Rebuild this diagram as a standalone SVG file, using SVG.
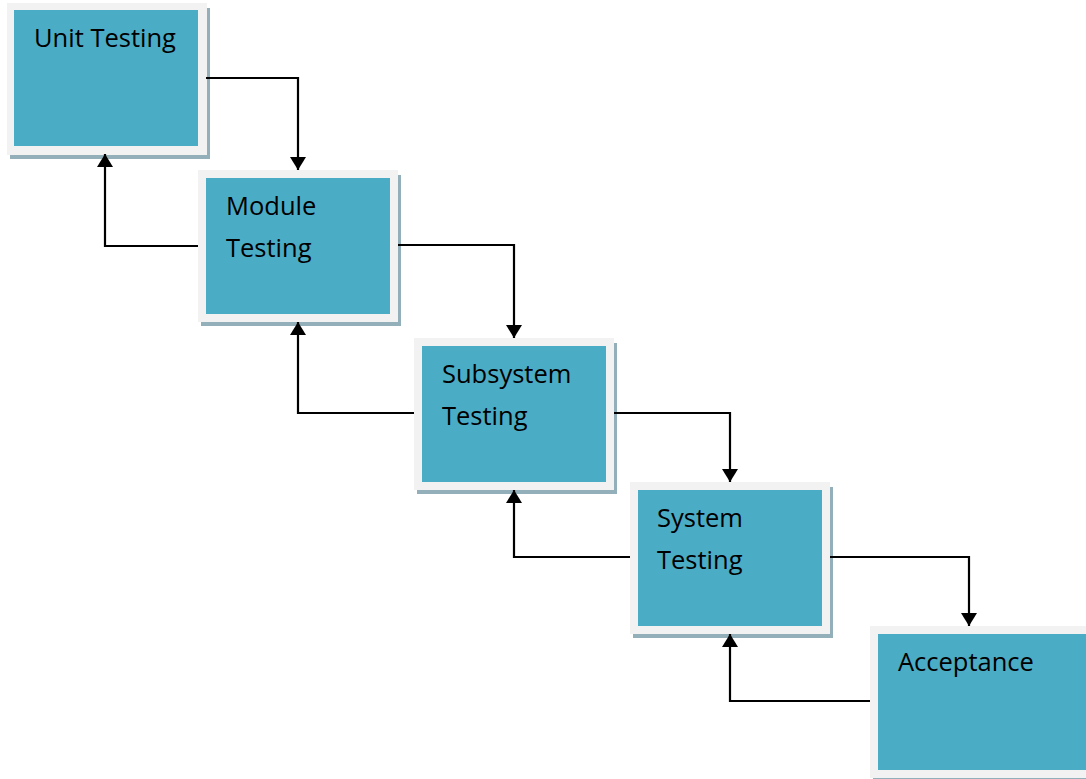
<svg xmlns="http://www.w3.org/2000/svg" width="1086" height="779" viewBox="0 0 1086 779">
<style>
.sh{fill:#93b0ba}
.ob{fill:#f2f2f2}
.ib{fill:#4bacc6}
.t{font-family:"Open Sans","DejaVu Sans",sans-serif;font-size:25.5px;fill:#000}
.c{fill:none;stroke:#000;stroke-width:2.2;marker-end:url(#ah)}
</style>
<defs>
<marker id="ah" markerUnits="userSpaceOnUse" viewBox="0 0 13 16" refX="13" refY="8" markerWidth="13" markerHeight="16" orient="auto">
<path d="M0,0 L13,8 L0,16 Z" fill="#000"/>
</marker>
</defs>
<rect width="1086" height="779" fill="#fff"/>
<g id="unit">
<rect class="sh" x="10" y="8" width="200" height="151"/>
<rect class="ob" x="7" y="3" width="200" height="152"/>
<rect class="ib" x="14" y="10" width="184" height="136"/>
<text class="t" x="34" y="47">Unit Testing</text>
</g>
<g id="module">
<rect class="sh" x="201" y="175" width="200" height="151"/>
<rect class="ob" x="198" y="170" width="200" height="152"/>
<rect class="ib" x="206" y="178" width="184" height="136"/>
<text class="t" x="226" y="215">Module</text>
<text class="t" x="226" y="257">Testing</text>
</g>
<g id="subsystem">
<rect class="sh" x="417" y="343" width="200" height="151"/>
<rect class="ob" x="414" y="338" width="200" height="152"/>
<rect class="ib" x="422" y="346" width="184" height="136"/>
<text class="t" x="442" y="383">Subsystem</text>
<text class="t" x="442" y="425">Testing</text>
</g>
<g id="system">
<rect class="sh" x="633" y="487" width="200" height="151"/>
<rect class="ob" x="630" y="482" width="200" height="152"/>
<rect class="ib" x="638" y="490" width="184" height="136"/>
<text class="t" x="657" y="527">System</text>
<text class="t" x="657" y="569">Testing</text>
</g>
<g id="acceptance">
<rect class="sh" x="873" y="631" width="220" height="151"/>
<rect class="ob" x="870" y="626" width="220" height="152"/>
<rect class="ib" x="878" y="634" width="212" height="136"/>
<text class="t" x="898" y="671">Acceptance</text>
</g>
<g id="connectors">
<path class="c" d="M206,78 H298 V170"/>
<path class="c" d="M198,246 H105 V154"/>
<path class="c" d="M398,245 H514 V338"/>
<path class="c" d="M414,413 H298 V322"/>
<path class="c" d="M614,413 H730 V482"/>
<path class="c" d="M630,557 H514 V490"/>
<path class="c" d="M830,557 H969 V626"/>
<path class="c" d="M870,701 H730 V634"/>
</g>
</svg>
